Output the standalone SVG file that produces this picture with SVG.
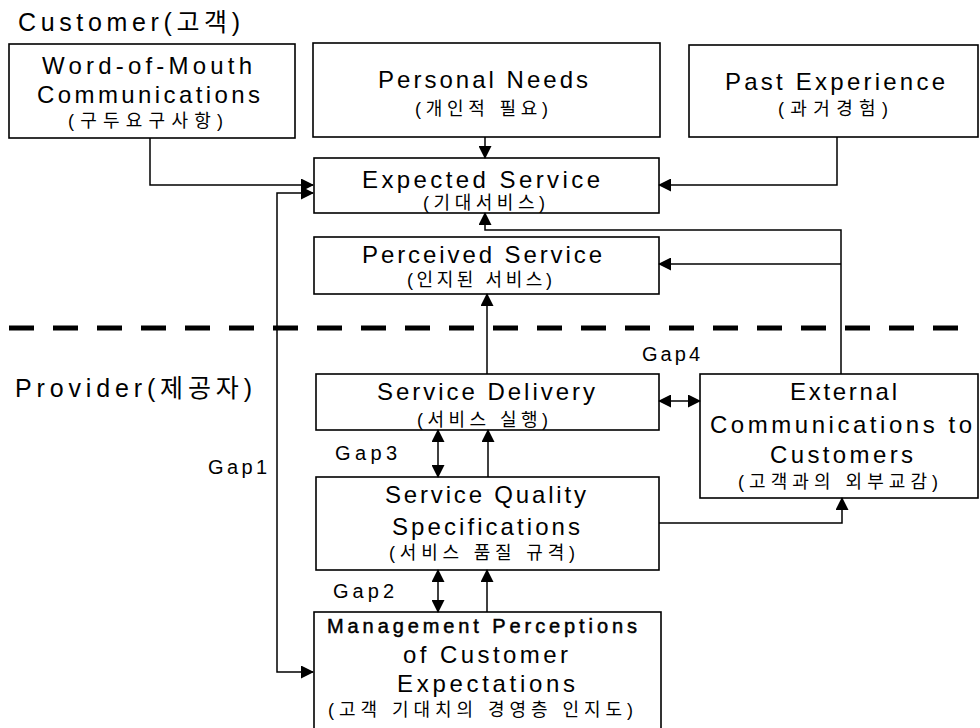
<svg xmlns="http://www.w3.org/2000/svg" width="980" height="728" viewBox="0 0 980 728">
<defs>
<style>
.box{fill:#fff;stroke:#000;stroke-width:1.6}
.ln{fill:none;stroke:#000;stroke-width:1.5}
.t{font-family:"Liberation Sans","Noto Sans CJK KR",Arial,sans-serif;font-size:24px;fill:#000}
.k{font-family:"Liberation Sans","Noto Sans CJK KR",sans-serif;font-size:18px;fill:#000}
.g{font-family:"Liberation Sans","Noto Sans CJK KR",sans-serif;font-size:20px;fill:#000}
.h{font-family:"Liberation Sans","Noto Sans CJK KR",sans-serif;font-size:25px;fill:#000}
</style>
<marker id="ah" markerWidth="13" markerHeight="13" refX="12" refY="6.5" orient="auto-start-reverse" markerUnits="userSpaceOnUse">
<path d="M0,0 L13,6.5 L0,13 Z" fill="#000"/>
</marker>
</defs>
<rect width="980" height="728" fill="#fff"/>

<g id="labels">
<text class="h" x="18" y="31" textLength="222" lengthAdjust="spacing">Customer(고객)</text>
<text class="h" x="15" y="397" textLength="237" lengthAdjust="spacing">Provider(제공자)</text>
<line x1="9" y1="328" x2="958" y2="328" stroke="#000" stroke-width="5" stroke-dasharray="25 19"/>
</g>

<g id="wom">
<rect class="box" x="9" y="44" width="286" height="94"/>
<text class="t" x="42" y="74" textLength="210" lengthAdjust="spacing">Word-of-Mouth</text>
<text class="t" x="37" y="103" textLength="223" lengthAdjust="spacing">Communications</text>
<text class="k" x="68" y="127" textLength="155" lengthAdjust="spacing">(구두요구사항)</text>
</g>

<g id="personal">
<rect class="box" x="313" y="43" width="347" height="94"/>
<text class="t" x="378" y="88" textLength="210" lengthAdjust="spacing">Personal Needs</text>
<text class="k" x="415" y="115" textLength="133" lengthAdjust="spacing">(개인적 필요)</text>
</g>

<g id="past">
<rect class="box" x="689" y="45" width="289" height="92"/>
<text class="t" x="725" y="90" textLength="220" lengthAdjust="spacing">Past Experience</text>
<text class="k" x="778" y="115" textLength="110" lengthAdjust="spacing">(과거경험)</text>
</g>

<g id="expected">
<rect class="box" x="314" y="158" width="345" height="55"/>
<text class="t" x="362" y="188" textLength="238" lengthAdjust="spacing">Expected Service</text>
<text class="k" x="423" y="209" textLength="122" lengthAdjust="spacing">(기대서비스)</text>
</g>

<g id="perceived">
<rect class="box" x="314" y="237" width="345" height="57"/>
<text class="t" x="362" y="263" textLength="240" lengthAdjust="spacing">Perceived Service</text>
<text class="k" x="407" y="286" textLength="145" lengthAdjust="spacing">(인지된 서비스)</text>
</g>

<g id="delivery">
<rect class="box" x="316" y="374" width="343" height="56"/>
<text class="t" x="377" y="400" textLength="218" lengthAdjust="spacing">Service Delivery</text>
<text class="k" x="417" y="426" textLength="131" lengthAdjust="spacing">(서비스 실행)</text>
</g>

<g id="external">
<rect class="box" x="700" y="374" width="278" height="124"/>
<text class="t" x="790" y="400" textLength="107" lengthAdjust="spacing">External</text>
<text class="t" x="710" y="433" textLength="262" lengthAdjust="spacing">Communications to</text>
<text class="t" x="770" y="463" textLength="143" lengthAdjust="spacing">Customers</text>
<text class="k" x="738" y="488" textLength="200" lengthAdjust="spacing">(고객과의 외부교감)</text>
</g>

<g id="specs">
<rect class="box" x="316" y="477" width="343" height="93"/>
<text class="t" x="385" y="503" textLength="201" lengthAdjust="spacing">Service Quality</text>
<text class="t" x="392" y="535" textLength="188" lengthAdjust="spacing">Specifications</text>
<text class="k" x="389" y="559" textLength="186" lengthAdjust="spacing">(서비스 품질 규격)</text>
</g>

<g id="management">
<rect class="box" x="314" y="612" width="347" height="122"/>
<text class="t" x="327" y="633" textLength="310" lengthAdjust="spacing" style="font-size:20px;stroke:#000;stroke-width:0.5">Management Perceptions</text>
<text class="t" x="403" y="663" textLength="165" lengthAdjust="spacing">of Customer</text>
<text class="t" x="397" y="692" textLength="178" lengthAdjust="spacing">Expectations</text>
<text class="k" x="328" y="716" textLength="305" lengthAdjust="spacing">(고객 기대치의 경영층 인지도)</text>
</g>

<g id="gaps">
<text class="g" x="208" y="474" textLength="59" lengthAdjust="spacing">Gap1</text>
<text class="g" x="333" y="598" textLength="61" lengthAdjust="spacing">Gap2</text>
<text class="g" x="335" y="460" textLength="62" lengthAdjust="spacing">Gap3</text>
<text class="g" x="642" y="361" textLength="58" lengthAdjust="spacing">Gap4</text>
</g>

<g id="connectors">
<path class="ln" d="M150,138 V185 H313" marker-end="url(#ah)"/>
<path class="ln" d="M313,193 H277 V672 H313" marker-start="url(#ah)" marker-end="url(#ah)"/>
<path class="ln" d="M485,137 V158" marker-end="url(#ah)"/>
<path class="ln" d="M837,137 V185 H659" marker-end="url(#ah)"/>
<path class="ln" d="M841,374 V230 H485 V213" marker-end="url(#ah)"/>
<path class="ln" d="M841,264 H659" marker-end="url(#ah)"/>
<path class="ln" d="M487,374 V294" marker-end="url(#ah)"/>
<path class="ln" d="M659,401 H700" marker-start="url(#ah)" marker-end="url(#ah)"/>
<path class="ln" d="M438,430 V477" marker-start="url(#ah)" marker-end="url(#ah)"/>
<path class="ln" d="M488,477 V430" marker-end="url(#ah)"/>
<path class="ln" d="M659,523 H842 V498" marker-end="url(#ah)"/>
<path class="ln" d="M438,570 V612" marker-start="url(#ah)" marker-end="url(#ah)"/>
<path class="ln" d="M487,612 V570" marker-end="url(#ah)"/>
</g>
</svg>
